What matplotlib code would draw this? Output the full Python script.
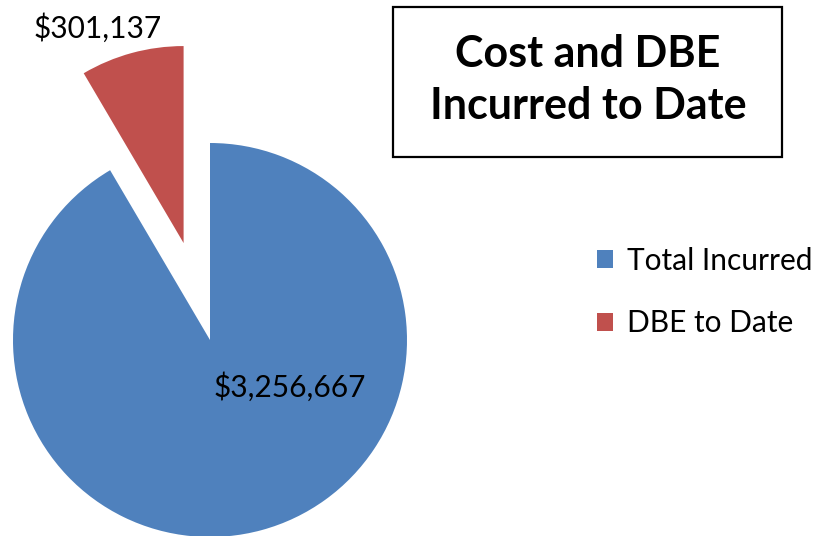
import matplotlib
matplotlib.use("Agg")
from matplotlib import pyplot as plt
from matplotlib.patches import Rectangle

# data
categories = ["Total Incurred", "DBE to Date"]
values = [3256667, 301137]
colors = ["#4F81BD", "#C0504D"]
title = "Cost and DBE\nIncurred to Date"

W, H = 822, 536
fig = plt.figure(figsize=(W / 100, H / 100), dpi=100)
ax = fig.add_axes([0, 0, 1, 1])

radius = 197
center = (210, H - 340)
wedges, _ = ax.pie(values, colors=colors, startangle=90, counterclock=False,
                   radius=radius, center=center, explode=[0, 0.51 * radius],
                   wedgeprops=dict(linewidth=0), frame=True)
ax.set_xlim(0, W)
ax.set_ylim(0, H)
ax.set_aspect("equal")
ax.axis("off")

font = "Lato"
ax.text(290, H - 387, "${:,}".format(values[0]), fontsize=21.5, family=font,
        ha="center", va="center", color="black")
ax.text(98, H - 28, "${:,}".format(values[1]), fontsize=21.5, family=font,
        ha="center", va="center", color="black")

# title box
fig.add_artist(Rectangle((393 / W, 1 - 157 / H), (782 - 393) / W, 150 / H,
                         transform=fig.transFigure, fill=False,
                         edgecolor="black", linewidth=1.6))
fig.text(588 / W, 1 - 80 / H, title, fontsize=31, fontweight="bold",
         family=font, ha="center", va="center", linespacing=1.35)

ax.legend(wedges, categories, loc="center left",
          bbox_to_anchor=(597 / W, 1 - 292 / H), frameon=False,
          prop=dict(family=font, size=21.5), handlelength=0.55,
          handleheight=0.55, handletextpad=0.45, labelspacing=1.15,
          borderaxespad=0, borderpad=0)

fig.savefig("out.png", dpi=100)
